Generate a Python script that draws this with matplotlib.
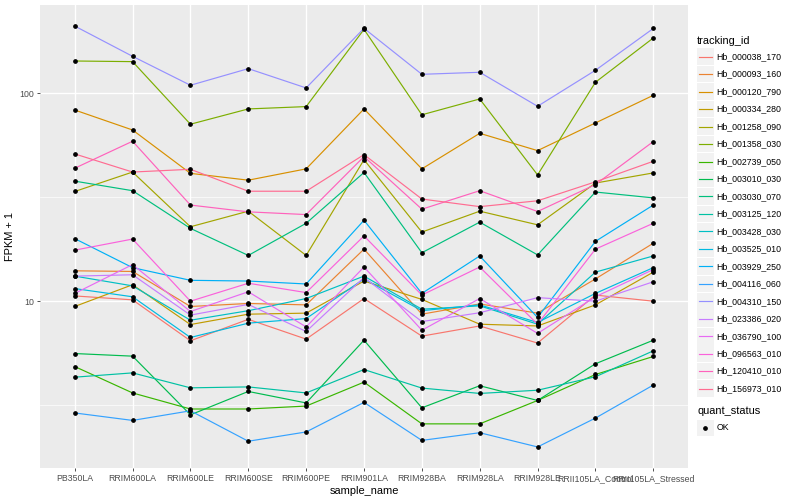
import matplotlib
matplotlib.use("Agg")
import matplotlib.pyplot as plt
import numpy as np
from matplotlib.patches import Rectangle
from matplotlib.lines import Line2D
from matplotlib.ticker import FixedLocator, NullFormatter

plt.rcParams['font.family'] = ['Liberation Sans', 'DejaVu Sans']

# x categories
samples = ['PB350LA', 'RRIM600LA', 'RRIM600LE', 'RRIM600SE', 'RRIM600PE', 'RRIM901LA',
           'RRIM928BA', 'RRIM928LA', 'RRIM928LE', 'RRII105LA_Control', 'RRII105LA_Stressed']

# FPKM + 1 per gene
hb_000038_170 = [10.6, 10.15, 6.45, 8.18, 6.57, 10.3, 6.79, 7.6, 6.29, 10.7, 10.0]
hb_000093_160 = [14.0, 13.9, 9.43, 9.75, 9.6, 17.8, 8.66, 9.7, 8.76, 12.8, 19.0]
hb_000120_790 = [83.1, 66.6, 41.2, 38.2, 43.3, 84.1, 43.3, 64.2, 53.0, 72.0, 97.8]
hb_000334_280 = [9.43, 12.0, 7.72, 8.66, 8.76, 12.5, 10.2, 7.75, 7.6, 9.6, 13.8]
hb_001258_090 = [33.7, 41.8, 22.8, 27.1, 16.6, 47.9, 21.5, 27.1, 23.3, 37.0, 41.4]
hb_001358_030 = [143, 142, 71, 84.1, 86.3, 203, 78.8, 93.9, 40.5, 113, 184.5]
hb_002739_050 = [4.85, 3.62, 3.03, 3.03, 3.13, 4.08, 2.57, 2.57, 3.33, 4.44, 5.42]
hb_003010_030 = [5.60, 5.44, 2.84, 3.68, 3.24, 6.49, 3.07, 3.92, 3.33, 5.0, 6.49]
hb_003030_070 = [37.8, 34.0, 22.4, 16.6, 23.7, 41.6, 17.1, 24.0, 16.7, 33.5, 31.4]
hb_003125_120 = [4.31, 4.52, 3.83, 3.87, 3.62, 4.69, 3.82, 3.60, 3.73, 4.33, 5.77]
hb_003428_030 = [13.2, 11.85, 8.1, 9.0, 10.3, 13.2, 9.15, 9.5, 7.75, 13.8, 16.5]
hb_003525_010 = [11.5, 10.5, 6.69, 7.84, 8.25, 12.8, 9.0, 9.6, 7.9, 10.9, 14.5]
hb_003929_250 = [20.0, 14.5, 12.6, 12.5, 12.1, 24.5, 10.9, 16.5, 8.35, 19.4, 29.0]
hb_004116_060 = [2.90, 2.67, 2.97, 2.12, 2.35, 3.26, 2.14, 2.33, 1.99, 2.74, 3.95]
hb_004310_150 = [210.6, 150.6, 109.3, 131.4, 106.1, 205.4, 123.4, 126.2, 86.6, 129, 205]
hb_023386_020 = [13.2, 13.4, 8.57, 9.65, 7.15, 13.0, 7.98, 8.8, 10.4, 10.0, 12.4]
hb_036790_100 = [10.9, 15.0, 8.92, 11.1, 7.52, 14.6, 7.25, 10.3, 7.0, 10.5, 14.2]
hb_096563_010 = [17.6, 19.9, 10.0, 12.2, 11.0, 20.6, 10.7, 14.6, 7.75, 17.8, 23.7]
hb_120410_010 = [43.6, 58.8, 29.0, 26.9, 26.1, 49.6, 27.7, 34.0, 27.0, 36.4, 58.6]
hb_156973_010 = [51.1, 41.8, 43.1, 33.8, 33.8, 50.7, 31.0, 28.5, 30.4, 37.5, 47.1]

tracking_ids = ['Hb_000038_170', 'Hb_000093_160', 'Hb_000120_790', 'Hb_000334_280',
                'Hb_001258_090', 'Hb_001358_030', 'Hb_002739_050', 'Hb_003010_030',
                'Hb_003030_070', 'Hb_003125_120', 'Hb_003428_030', 'Hb_003525_010',
                'Hb_003929_250', 'Hb_004116_060', 'Hb_004310_150', 'Hb_023386_020',
                'Hb_036790_100', 'Hb_096563_010', 'Hb_120410_010', 'Hb_156973_010']
series = [hb_000038_170, hb_000093_160, hb_000120_790, hb_000334_280, hb_001258_090,
          hb_001358_030, hb_002739_050, hb_003010_030, hb_003030_070, hb_003125_120,
          hb_003428_030, hb_003525_010, hb_003929_250, hb_004116_060, hb_004310_150,
          hb_023386_020, hb_036790_100, hb_096563_010, hb_120410_010, hb_156973_010]

# ggplot hue palette, 20 levels
colors = ['#F8766D', '#EA8331', '#D89000', '#C09B00', '#A3A500', '#7CAE00', '#39B600',
          '#00BB4E', '#00BF7D', '#00C1A3', '#00BFC4', '#00BAE0', '#00B0F6', '#35A2FF',
          '#9590FF', '#C77CFF', '#E76BF3', '#FA62DB', '#FF62BC', '#FF6C91']

W, H = 800, 500
fig = plt.figure(figsize=(8, 5), dpi=100)
ax = fig.add_axes([40 / W, 1 - 468 / H, 648 / W, 463 / H])
ax.set_facecolor('#EBEBEB')
for s in ax.spines.values():
    s.set_visible(False)

x = np.arange(len(samples))
for vals, col in zip(series, colors):
    ax.plot(x, vals, color=col, lw=0.85, zorder=2)
for vals in series:
    ax.plot(x, vals, 'o', color='black', ms=2.4, zorder=3)

ax.set_yscale('log')
lo = min(min(v) for v in series)
hi = max(max(v) for v in series)
span = np.log10(hi) - np.log10(lo)
ax.set_ylim(10 ** (np.log10(lo) - 0.05 * span), 10 ** (np.log10(hi) + 0.05 * span))
ax.set_xlim(-0.6, len(samples) - 0.4)

ax.yaxis.set_major_locator(FixedLocator([10, 100]))
ax.set_yticklabels(['10', '100'])
ax.yaxis.set_minor_locator(FixedLocator([10 ** 0.5, 10 ** 1.5]))
ax.yaxis.set_minor_formatter(NullFormatter())
ax.set_xticks(x)
ax.set_xticklabels(samples)

ax.grid(which='major', color='white', lw=1.0)
ax.grid(which='minor', axis='y', color='white', lw=0.5)
ax.set_axisbelow(True)
ax.tick_params(which='major', length=2.5, width=0.6, color='#333333',
               labelsize=6.3, labelcolor='#4D4D4D', pad=2)
ax.tick_params(which='minor', length=0)

ax.set_xlabel('sample_name', fontsize=7.9, labelpad=2)
ax.set_ylabel('FPKM + 1', fontsize=7.9, labelpad=3)

# legend: tracking_id
def fx(px):
    return px / W

def fy(py):
    return 1 - py / H

fig.text(fx(697), fy(40.7), 'tracking_id', fontsize=7.9, va='center', ha='left')
for i, (name, col) in enumerate(zip(tracking_ids, colors)):
    yc = 56.7 + i * 17.47
    fig.patches.append(Rectangle((fx(697), fy(yc + 8.3)), 16.6 / W, 16.6 / H,
                                 transform=fig.transFigure, facecolor='#F2F2F2',
                                 edgecolor='none'))
    fig.lines.append(Line2D([fx(699), fx(712)], [fy(yc), fy(yc)], transform=fig.transFigure,
                            color=col, lw=0.85))
    fig.text(fx(716.5), fy(yc), name, fontsize=6.3, va='center', ha='left')

# legend: quant_status
fig.text(fx(697), fy(411), 'quant_status', fontsize=7.9, va='center', ha='left')
fig.patches.append(Rectangle((fx(697), fy(428 + 8.3)), 16.6 / W, 16.6 / H,
                             transform=fig.transFigure, facecolor='#F2F2F2', edgecolor='none'))
fig.lines.append(Line2D([fx(705.3)], [fy(428)], transform=fig.transFigure,
                        marker='o', color='black', ms=2.4, lw=0))
fig.text(fx(716.5), fy(428), 'OK', fontsize=6.3, va='center', ha='left')

fig.savefig('out.png', dpi=100)
